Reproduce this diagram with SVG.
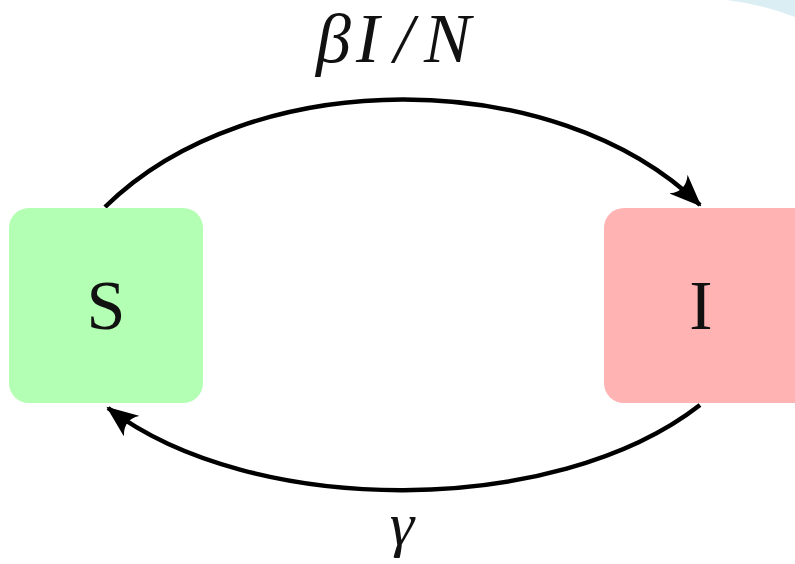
<svg xmlns="http://www.w3.org/2000/svg" width="795" height="564" viewBox="0 0 795 564">
<style>
.lbl{font-family:"Liberation Serif","DejaVu Serif",serif;fill:#111;text-anchor:middle}
.math{font-family:"Liberation Serif","DejaVu Serif",serif;font-style:italic;fill:#111}
.edge{fill:none;stroke:#000;stroke-width:4.5;stroke-linecap:butt}
</style>
<defs>
<marker id="ah" viewBox="0 0 32 26" refX="30" refY="13" markerWidth="32" markerHeight="26" markerUnits="userSpaceOnUse" orient="auto">
<path d="M0,0 Q11,13 0,26 L32,13 Z" fill="#000"/>
</marker>
</defs>
<rect width="795" height="564" fill="#fff"/>
<path d="M727,0 Q765,5 795,17 L795,0 Z" fill="#dbeef3"/>
<g id="connectors">
<path class="edge" d="M105,207 C250,64 555,64 700,205" marker-end="url(#ah)"/>
<path class="edge" d="M700,405 C555,518 252,518 108,408" marker-end="url(#ah)"/>
</g>
<g id="node-S">
<rect x="9" y="208" width="194" height="195" rx="20" fill="#b3ffb3"/>
<text class="lbl" x="106" y="329" font-size="70">S</text>
</g>
<g id="node-I">
<rect x="604" y="208" width="210" height="195" rx="20" fill="#ffb3b3"/>
<text class="lbl" x="701" y="329" font-size="70">I</text>
</g>
<g id="label-top">
<text class="math" y="62" font-size="70"><tspan x="316">β</tspan><tspan x="356">I</tspan><tspan x="394">/</tspan><tspan x="424">N</tspan></text>
</g>
<g id="label-bottom">
<text class="math" x="402" y="545" font-size="62" text-anchor="middle">γ</text>
</g>
</svg>
